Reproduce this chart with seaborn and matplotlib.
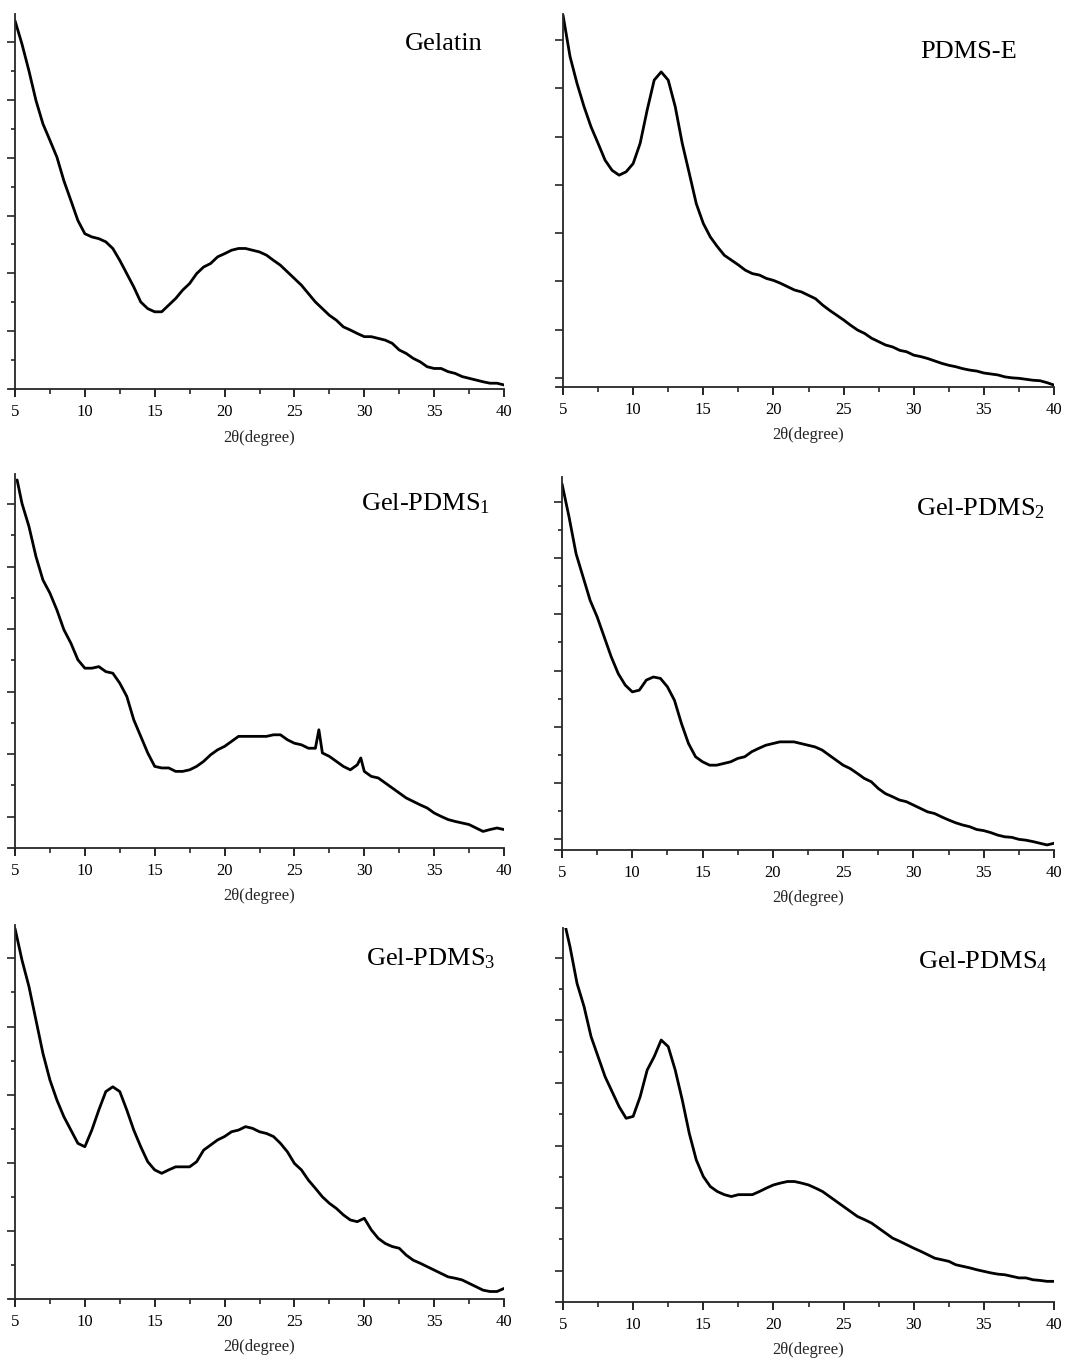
import numpy as np
import pandas as pd
import matplotlib
matplotlib.use("Agg")
import matplotlib.pyplot as plt
import seaborn as sns

# ---------------- data (arbitrary intensity units) ----
two_theta = [5.0, 5.5, 6.0, 6.5, 7.0, 7.5, 8.0, 8.5, 9.0, 9.5, 10.0, 10.5, 11.0,
             11.5, 12.0, 12.5, 13.0, 13.5, 14.0, 14.5, 15.0, 15.5, 16.0, 16.5,
             17.0, 17.5, 18.0, 18.5, 19.0, 19.5, 20.0, 20.5, 21.0, 21.5, 22.0,
             22.5, 23.0, 23.5, 24.0, 24.5, 25.0, 25.5, 26.0, 26.5, 27.0, 27.5,
             28.0, 28.5, 29.0, 29.5, 30.0, 30.5, 31.0, 31.5, 32.0, 32.5, 33.0,
             33.5, 34.0, 34.5, 35.0, 35.5, 36.0, 36.5, 37.0, 37.5, 38.0, 38.5,
             39.0, 39.5, 40.0]

gelatin = [12.74, 11.93, 11.0, 9.98, 9.17, 8.6, 8.02, 7.2, 6.52, 5.83, 5.37, 5.26,
           5.2, 5.09, 4.86, 4.45, 3.99, 3.53, 3.01, 2.78, 2.67, 2.67, 2.9, 3.13,
           3.42, 3.65, 3.99, 4.22, 4.34, 4.57, 4.68, 4.8, 4.86, 4.86, 4.8, 4.74,
           4.63, 4.45, 4.28, 4.05, 3.82, 3.59, 3.3, 3.01, 2.78, 2.55, 2.38, 2.15,
           2.04, 1.92, 1.81, 1.81, 1.75, 1.69, 1.58, 1.35, 1.23, 1.06, 0.94, 0.77,
           0.71, 0.71, 0.6, 0.54, 0.43, 0.37, 0.31, 0.25, 0.2, 0.2, 0.14]

pdms_e = [7.52, 6.66, 6.1, 5.62, 5.2, 4.86, 4.51, 4.3, 4.2, 4.27, 4.44, 4.86, 5.55,
          6.17, 6.34, 6.17, 5.62, 4.86, 4.24, 3.61, 3.2, 2.92, 2.72, 2.54, 2.44,
          2.34, 2.23, 2.16, 2.13, 2.06, 2.02, 1.96, 1.89, 1.82, 1.78, 1.71, 1.64,
          1.51, 1.4, 1.3, 1.2, 1.09, 0.99, 0.92, 0.82, 0.75, 0.68, 0.64, 0.57,
          0.54, 0.47, 0.44, 0.4, 0.35, 0.3, 0.26, 0.23, 0.19, 0.16, 0.14, 0.1,
          0.08, 0.06, 0.02, 0.0, -0.01, -0.03, -0.05, -0.06, -0.1, -0.15]

gel_pdms1 = [11.77, 11.02, 10.28, 9.32, 8.57, 8.15, 7.61, 6.98, 6.55, 6.02, 5.75,
             5.75, 5.8, 5.64, 5.59, 5.27, 4.85, 4.1, 3.57, 3.04, 2.61, 2.56, 2.56,
             2.45, 2.45, 2.5, 2.61, 2.77, 2.98, 3.14, 3.25, 3.41, 3.57, 3.57, 3.57,
             3.57, 3.57, 3.62, 3.62, 3.46, 3.35, 3.3, 3.19, 3.19, 3.04, 2.93, 2.77,
             2.61, 2.5, 2.66, 2.45, 2.29, 2.24, 2.08, 1.92, 1.76, 1.6, 1.49, 1.38,
             1.28, 1.12, 1.01, 0.91, 0.85, 0.8, 0.75, 0.64, 0.53, 0.59, 0.64, 0.59]

gel_pdms2 = [12.65, 11.47, 10.16, 9.33, 8.5, 7.91, 7.2, 6.49, 5.89, 5.48, 5.24, 5.3,
             5.66, 5.77, 5.72, 5.42, 4.94, 4.11, 3.4, 2.93, 2.75, 2.63, 2.63, 2.69,
             2.75, 2.87, 2.93, 3.11, 3.23, 3.34, 3.4, 3.46, 3.46, 3.46, 3.4, 3.34,
             3.28, 3.17, 2.99, 2.81, 2.63, 2.51, 2.34, 2.16, 2.04, 1.8, 1.62, 1.51,
             1.39, 1.33, 1.21, 1.09, 0.97, 0.91, 0.79, 0.68, 0.58, 0.5, 0.44, 0.34,
             0.3, 0.23, 0.14, 0.08, 0.06, -0.01, -0.04, -0.09, -0.15, -0.21, -0.15]

gel_pdms3 = [10.88, 9.95, 9.17, 8.19, 7.21, 6.43, 5.84, 5.35, 4.96, 4.57, 4.47, 4.96,
             5.55, 6.09, 6.23, 6.09, 5.55, 4.96, 4.47, 4.03, 3.79, 3.69, 3.79, 3.88,
             3.88, 3.88, 4.03, 4.37, 4.52, 4.67, 4.77, 4.91, 4.96, 5.06, 5.01, 4.91,
             4.86, 4.77, 4.57, 4.32, 3.98, 3.79, 3.49, 3.25, 3.0, 2.81, 2.66, 2.47,
             2.32, 2.27, 2.37, 2.03, 1.78, 1.63, 1.54, 1.49, 1.29, 1.14, 1.05, 0.95,
             0.85, 0.75, 0.65, 0.61, 0.56, 0.46, 0.36, 0.26, 0.22, 0.22, 0.31]

gel_pdms4 = [11.94, 11.35, 10.18, 9.44, 8.48, 7.84, 7.2, 6.72, 6.24, 5.87, 5.93,
             6.56, 7.41, 7.84, 8.37, 8.16, 7.41, 6.46, 5.39, 4.54, 4.01, 3.69, 3.53,
             3.43, 3.37, 3.43, 3.43, 3.43, 3.53, 3.64, 3.74, 3.8, 3.85, 3.85, 3.8,
             3.74, 3.64, 3.53, 3.37, 3.21, 3.05, 2.89, 2.73, 2.63, 2.52, 2.36, 2.2,
             2.04, 1.94, 1.83, 1.72, 1.62, 1.51, 1.4, 1.35, 1.3, 1.19, 1.14, 1.09,
             1.03, 0.98, 0.93, 0.89, 0.87, 0.82, 0.77, 0.77, 0.71, 0.69, 0.66, 0.66]

# sharp spikes seen in the Gel-PDMS1 pattern
gel_pdms1_spike_x = [26.75, 29.75]
gel_pdms1_spike_y = [3.78, 2.88]

sample_names = ["Gelatin", "PDMS-E", "Gel-PDMS$_1$", "Gel-PDMS$_2$",
                "Gel-PDMS$_3$", "Gel-PDMS$_4$"]
x_ticks = [5, 10, 15, 20, 25, 30, 35, 40]
x_minor_ticks = [7.5, 12.5, 17.5, 22.5, 27.5, 32.5, 37.5]
x_label = "2θ(degree)"

# ---------------- style ----------------
sns.set_style("ticks")
plt.rcParams["font.family"] = ["Liberation Serif", "DejaVu Serif"]
plt.rcParams["mathtext.fontset"] = "custom"
plt.rcParams["mathtext.rm"] = "Liberation Serif"
plt.rcParams["mathtext.it"] = "Liberation Serif"

fig = plt.figure(figsize=(10.76, 13.6), dpi=100)

W, H = 1076.0, 1360.0
# (left px, right px, top px, bottom px)
boxes = [(15, 504, 14, 389), (563, 1054, 14, 387),
         (15, 504, 474, 848), (562, 1054, 477, 850),
         (15, 504, 925, 1299), (563, 1054, 928, 1302)]

series = [gelatin, pdms_e, gel_pdms1, gel_pdms2, gel_pdms3, gel_pdms4]
ylims = [(0, 12.97), (-0.19, 7.54), (0, 11.96), (-0.39, 12.89), (0, 10.98), (0, 11.95)]
y_major = [[2, 4, 6, 8, 10, 12], list(range(0, 8)), [1, 3, 5, 7, 9, 11],
           [0, 2, 4, 6, 8, 10, 12], [2, 4, 6, 8, 10], [1, 3, 5, 7, 9, 11]]
y_minor = [[1, 3, 5, 7, 9, 11], [], [2, 4, 6, 8, 10],
           [1, 3, 5, 7, 9, 11], [1, 3, 5, 7, 9], [2, 4, 6, 8, 10]]
label_pos = [(0.957, 0.904), (0.925, 0.882), (0.971, 0.904),
             (0.982, 0.898), (0.982, 0.893), (0.988, 0.893)]
first_x = [5.0, 5.0, 5.15, 5.0, 5.0, 5.2]

for i, (l, r, t, b) in enumerate(boxes):
    ax = fig.add_axes([l / W, 1 - b / H, (r - l) / W, (b - t) / H])
    xs = list(two_theta)
    ys = list(series[i])
    xs[0] = first_x[i]
    if i == 2:
        df = pd.DataFrame({"x": xs + gel_pdms1_spike_x, "y": ys + gel_pdms1_spike_y})
        df = df.sort_values("x")
    else:
        df = pd.DataFrame({"x": xs, "y": ys})
    sns.lineplot(data=df, x="x", y="y", ax=ax, color="black", linewidth=2.0,
                 sort=True, estimator=None)
    ax.set_xlim(5, 40)
    ax.set_ylim(*ylims[i])
    ax.set_xticks(x_ticks)
    ax.set_xticks(x_minor_ticks, minor=True)
    ax.set_yticks(y_major[i])
    ax.set_yticks(y_minor[i], minor=True)
    ax.set_yticklabels([])
    ax.set_xticklabels([str(v) for v in x_ticks], fontsize=12)
    for s in ["top", "right"]:
        ax.spines[s].set_visible(False)
    ax.spines["left"].set_linewidth(1.3)
    ax.spines["bottom"].set_linewidth(1.3)
    # small overhang of the axes lines beyond the origin
    ax_h = b - t
    y0, y1 = ylims[i]
    dy = 7.0 / ax_h * (y1 - y0)
    dx = 7.0 / (r - l) * 35
    ax.spines["left"].set_bounds(y0 - dy, y1)
    ax.spines["bottom"].set_bounds(5 - dx, 40)
    ax.tick_params(axis="x", which="major", direction="out", length=6, width=1.2,
                   pad=5, colors="black")
    ax.tick_params(axis="x", which="minor", direction="out", length=3.5, width=1.2)
    ax.tick_params(axis="y", which="major", direction="out", length=6, width=1.2)
    ax.tick_params(axis="y", which="minor", direction="out", length=3, width=1.2)
    ax.set_ylabel("")
    ax.set_xlabel(x_label, fontsize=12)
    ax.xaxis.set_label_coords(0.5, -0.108)
    lx, ly = label_pos[i]
    ax.text(lx, ly, sample_names[i], transform=ax.transAxes, ha="right",
            va="baseline", fontsize=19, color="black")
    for sp in ax.spines.values():
        sp.set_clip_on(False)

fig.savefig("out.png", dpi=100, facecolor="white")
